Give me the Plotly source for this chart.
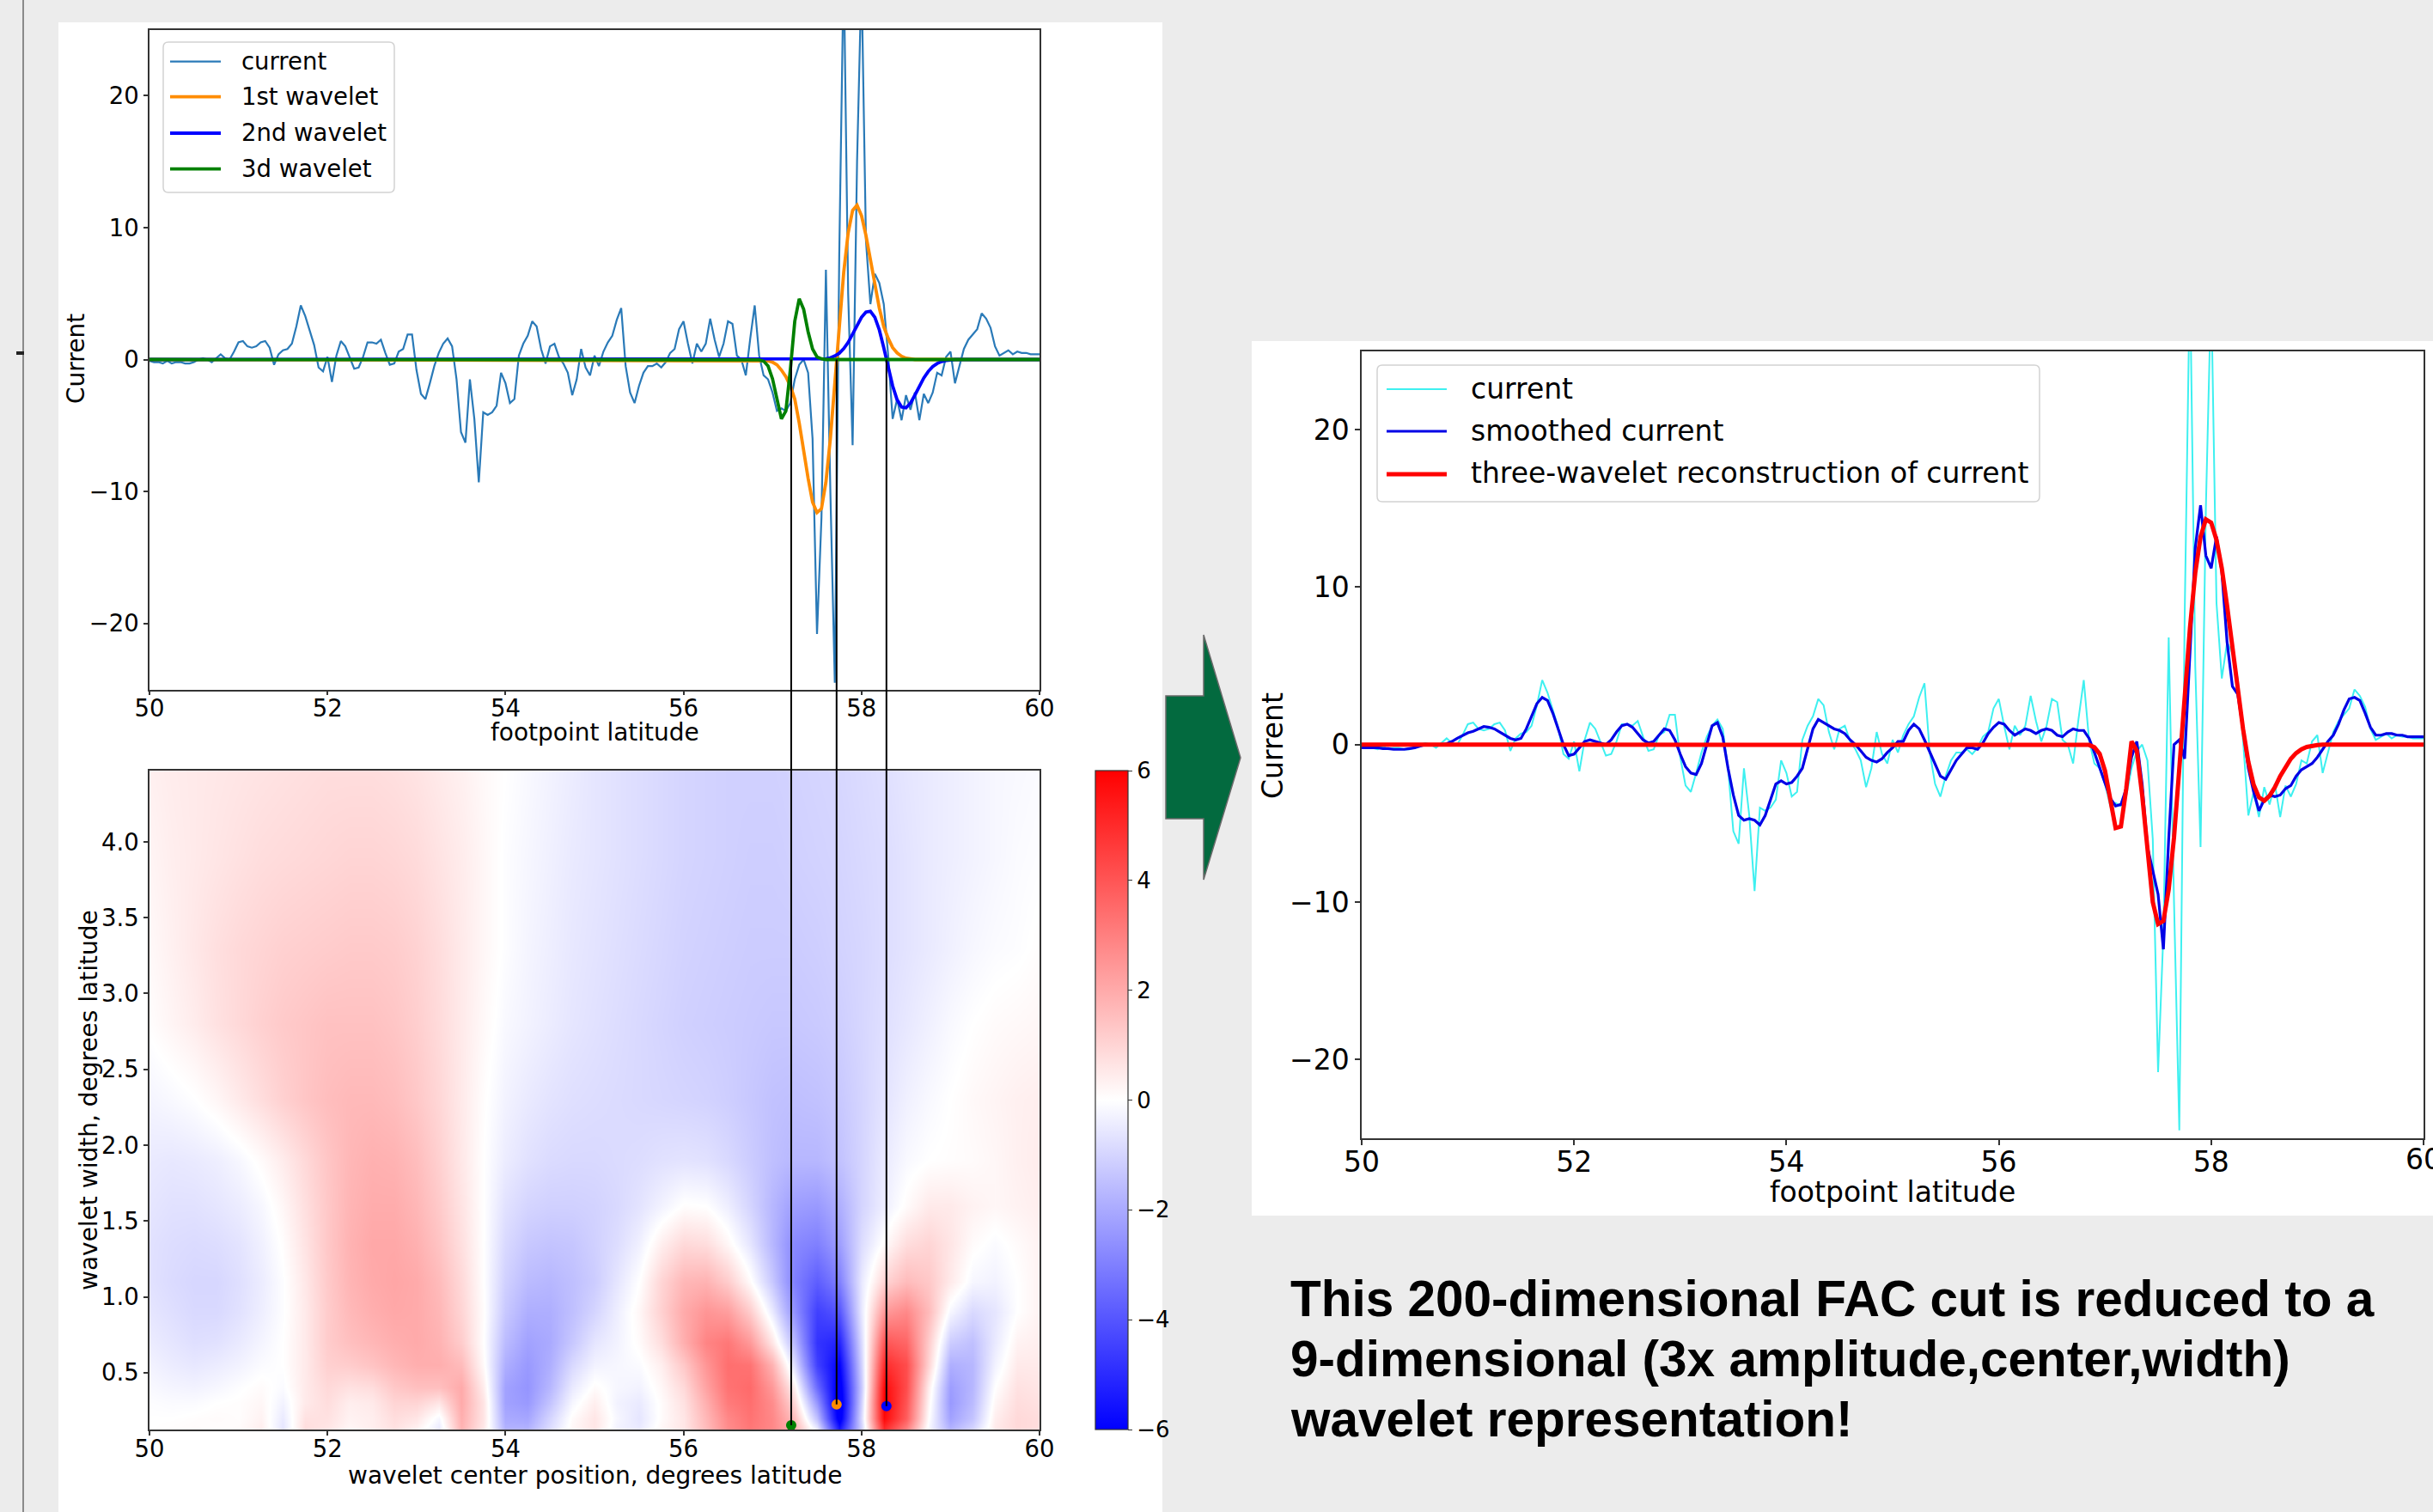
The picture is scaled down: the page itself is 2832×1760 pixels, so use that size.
import plotly.graph_objects as go

W, H = 2832, 1760
def px(x): return x / W
def py(y): return 1 - y / H

FONT = "DejaVu Sans"
BG = "#ececec"

# ---------------- data ----------------
LAT = [round(50 + i * 0.05, 2) for i in range(201)]   # footpoint latitude sampling (200 cells)

CURRENT = [
    -0.1, -0.2, -0.2, -0.3, -0.1, -0.3, -0.2, -0.2, -0.3, -0.3, -0.2, 0.0, 0.1, 0.0, -0.2, 0.1, 0.4, 0.1, 0.0, 0.6,
    1.3, 1.4, 1.0, 0.9, 1.0, 1.3, 1.4, 0.9, -0.4, 0.4, 0.7, 0.8, 1.2, 2.5, 4.1, 3.3, 2.2, 1.1, -0.6, -0.9,
    0.2, -1.7, 0.3, 1.4, 1.0, 0.2, -0.7, -0.6, 0.2, 1.3, 1.3, 1.2, 1.5, 0.5, -0.4, -0.3, 0.6, 0.8, 1.9, 1.9,
    -0.8, -2.6, -3.0, -1.8, -0.5, 0.5, 1.2, 1.6, 1.0, -1.5, -5.5, -6.3, -1.5, -4.5, -9.3, -4.0, -4.2, -4.0, -3.5, -1.0,
    -1.8, -3.3, -3.0, 0.3, 1.2, 1.8, 2.9, 2.5, 0.8, -0.3, 1.0, 1.2, 0.2, -0.3, -1.0, -2.7, -1.5, 0.8, -0.6, -1.2,
    0.3, -0.5, 0.6, 1.3, 1.8, 3.0, 3.9, -0.5, -2.5, -3.3, -2.0, -1.0, -0.5, -0.5, -0.3, -0.6, -0.2, 0.5, 0.8, 2.3,
    2.9, 1.2, -0.3, 1.2, 0.6, 1.2, 3.1, 1.5, 0.2, 1.2, 2.9, 2.7, 0.3, 0.0, -1.2, 1.6, 4.1, 0.3, -1.2, -1.5,
    -2.5, -3.9, -3.7, -3.9, -3.3, -1.5, -0.4, 0.0, -1.0, -6.0, -20.8, -12.0, 6.8, -10.0, -24.5, 8.0, 30.0, 5.0, -6.5, 15.0,
    29.0, 9.0, 4.2, 6.5, 5.8, 4.2, 0.3, -4.5, -3.0, -4.6, -2.7, -3.8, -2.5, -4.6, -2.6, -3.3, -2.5, -1.0, -1.2, 0.2,
    0.6, -1.8, -0.5, 0.8, 1.5, 1.9, 2.3, 3.5, 3.1, 2.4, 1.0, 0.3, 0.5, 0.7, 0.4, 0.6, 0.5, 0.5, 0.4, 0.4, 0.4,
]

SMOOTHED = [
    -0.2, -0.2, -0.2, -0.2, -0.25, -0.25, -0.3, -0.3, -0.3, -0.25, -0.2, -0.1, 0.0, 0.0, 0.0, 0.0, 0.05, 0.2, 0.4, 0.6,
    0.75, 0.85, 1.0, 1.15, 1.1, 1.0, 0.8, 0.6, 0.4, 0.3, 0.4, 1.0, 1.8, 2.6, 3.0, 2.8, 2.0, 1.0, 0.0, -0.7,
    -0.6, -0.2, 0.2, 0.3, 0.2, 0.1, 0.0, 0.3, 0.8, 1.2, 1.3, 1.1, 0.7, 0.3, 0.1, 0.2, 0.6, 1.0, 0.9, 0.3,
    -0.6, -1.4, -1.8, -1.9, -1.2, 0.0, 1.2, 1.4, 0.5, -1.5, -3.2, -4.5, -4.8, -4.7, -4.8, -5.1, -4.5, -3.5, -2.5, -2.3,
    -2.5, -2.4, -2.0, -1.5, -0.3, 1.0, 1.6, 1.4, 1.2, 1.0, 0.9, 0.7, 0.3, 0.0, -0.4, -0.8, -1.0, -1.1, -0.9, -0.5,
    -0.2, 0.2, 0.2, 0.9, 1.3, 1.0, 0.3, -0.5, -1.3, -2.0, -2.2, -1.6, -1.0, -0.6, -0.2, -0.2, -0.3, 0.1, 0.7, 1.1,
    1.4, 1.3, 0.9, 0.6, 0.8, 1.0, 0.9, 0.7, 0.9, 1.0, 0.9, 0.6, 0.5, 0.8, 1.0, 0.9, 0.9, 0.4, -0.5, -1.5,
    -2.5, -3.4, -3.9, -3.8, -2.8, -0.8, 0.2, -2.5, -6.5, -8.0, -9.5, -13.0, -6.0, 0.0, 0.3, -0.9, 6.0, 12.5, 15.2, 12.0,
    11.2, 13.2, 11.0, 6.5, 3.7, 3.2, 1.0, -1.5, -3.0, -4.2, -3.5, -3.2, -3.3, -3.2, -2.8, -2.6, -2.0, -1.6, -1.4, -1.2,
    -0.8, -0.3, 0.2, 0.6, 1.3, 2.2, 2.9, 3.0, 2.8, 2.0, 1.1, 0.6, 0.6, 0.7, 0.7, 0.6, 0.6, 0.5, 0.5, 0.5, 0.5,
]

# wavelets: non-zero stretch (on the LAT lattice), zero elsewhere
WAVE1 = [-0.05, -0.1, -0.2, -0.4, -0.8, -1.3, -2.0, -3.0, -4.8, -7.0, -9.0, -10.8, -11.6, -11.3, -9.3, -6.0,
         -1.8, 2.6, 6.6, 9.6, 11.3, 11.7, 10.9, 9.4, 7.5, 5.6, 3.9, 2.5, 1.6, 0.9, 0.5, 0.25, 0.1, 0.05, 0.0]   # 56.90-58.60
WAVE2 = [0.0, 0.03, 0.06, 0.13, 0.27, 0.48, 0.82, 1.3, 1.9, 2.6, 3.2, 3.6, 3.66, 3.2, 2.25, 0.9, -0.6, -2.0,
         -3.05, -3.6, -3.66, -3.3, -2.7, -2.0, -1.4, -0.9, -0.54, -0.3, -0.15, -0.07, -0.03, 0.0]               # 57.50-59.05
WAVE3 = [0.0, -0.02, -0.12, -0.49, -1.46, -3.1, -4.5, -3.9, -0.8, 2.9, 4.6, 3.8, 2.1, 0.8, 0.2, 0.05, 0.0]   # 56.80-57.60
RECON = [-0.02, -0.17, -0.59, -1.66, -3.5, -5.3, -5.2, -2.8, 0.2, -0.4, -3.2, -6.9, -10.0, -11.4, -11.2, -9.2,
         -5.9, -1.5, 3.1, 7.4, 10.9, 13.2, 14.3, 14.1, 13.0, 11.2, 8.8, 6.2, 3.4, 1.0, -1.1, -2.55, -3.35, -3.56,
         -3.25, -2.7, -2.0, -1.4, -0.9, -0.54, -0.3, -0.15, -0.07, -0.03, 0.0]                                # 56.85-59.05
WAVE1_START, WAVE2_START, WAVE3_START, RECON_START = 138, 150, 136, 137   # index into LAT

# wavelet parameters (center, width) as marked on the coefficient map
WAVE_CENTER = [57.72, 58.28, 57.21]
WAVE_WIDTH = [0.29, 0.28, 0.153]
WAVE_COLOR = ["#ff8c00", "#0000ff", "#008000"]

# wavelet coefficient map
HM_LAT = [50 + 0.25 * i for i in range(41)]
HM_WIDTH = [0.13, 0.2, 0.3, 0.4, 0.55, 0.7, 0.9, 1.1, 1.35, 1.6, 1.9, 2.3, 2.8, 3.3, 3.9, 4.47]
HM_Z = [
    [0.0, 0.05, 0.1, 0.05, 0.1, 0.4, -0.6, 0.8, 0.6, 0.2, 0.4, 0.7, 0.3, -0.5, 1.8, 0.5, -1.8, -1.8, -0.8, 0.2, 0.6, -0.3, -0.5, 0.2, 0.6, 1.6, 2.7, 3.2, 2.8, 1.8, -0.5, -5.5, -1.0, 5.0, 3.0, -0.2, -1.8, -1.0, 0.5, 0.9, 0.8],
    [0.0, 0.0, 0.05, 0.1, 0.05, 0.3, -0.5, 0.7, 0.7, 0.3, 0.4, 0.8, 0.6, -0.2, 1.9, 0.6, -2.0, -2.1, -1.0, 0.1, 0.6, -0.2, -0.6, 0.1, 0.6, 1.7, 2.8, 3.3, 2.8, 1.5, -1.5, -6.5, -0.8, 5.8, 3.8, 0.0, -2.2, -1.4, 0.4, 0.9, 0.8],
    [-0.05, -0.1, -0.1, 0.0, 0.05, 0.2, -0.3, 0.5, 0.8, 0.4, 0.5, 1.0, 1.0, 0.6, 2.0, 0.6, -2.2, -2.4, -1.4, -0.2, 0.4, -0.3, -0.5, 0.1, 0.7, 1.9, 3.1, 3.4, 2.7, 0.9, -2.5, -6.8, -1.0, 6.0, 4.0, 0.2, -2.4, -1.6, 0.2, 0.8, 0.7],
    [-0.15, -0.25, -0.3, -0.2, -0.05, 0.1, -0.1, 0.5, 0.9, 0.7, 0.8, 1.3, 1.5, 1.5, 2.0, 0.4, -2.2, -2.5, -1.7, -0.5, 0.1, -0.2, -0.3, 0.2, 0.9, 2.2, 3.3, 3.5, 2.4, 0.3, -3.5, -6.5, -1.2, 5.8, 4.2, 0.4, -2.3, -1.7, 0.0, 0.7, 0.6],
    [-0.3, -0.45, -0.55, -0.45, -0.3, -0.1, 0.0, 0.5, 1.1, 1.2, 1.4, 1.7, 1.9, 1.9, 1.6, 0.1, -1.9, -2.4, -1.9, -0.9, -0.3, -0.2, -0.1, 0.4, 1.3, 2.5, 3.4, 3.3, 1.8, -0.8, -4.5, -6.0, -1.0, 5.0, 4.2, 1.0, -1.9, -1.7, -0.3, 0.5, 0.5],
    [-0.45, -0.6, -0.75, -0.7, -0.5, -0.25, 0.0, 0.5, 1.2, 1.5, 1.7, 1.9, 2.0, 1.8, 1.2, 0.0, -1.6, -2.2, -2.0, -1.3, -0.6, -0.3, 0.1, 0.8, 1.9, 2.9, 3.2, 2.4, 0.6, -1.7, -4.8, -5.2, -0.8, 4.0, 3.6, 1.2, -1.2, -1.5, -0.5, 0.3, 0.4],
    [-0.6, -0.75, -0.9, -0.9, -0.7, -0.4, -0.05, 0.5, 1.2, 1.65, 1.9, 2.05, 2.0, 1.7, 1.0, 0.05, -1.3, -1.9, -1.9, -1.5, -1.0, -0.4, 0.2, 1.1, 2.0, 2.5, 2.3, 1.2, -0.5, -2.6, -4.5, -4.0, -0.5, 2.4, 2.8, 1.6, -0.2, -0.9, -0.6, 0.0, 0.3],
    [-0.7, -0.85, -0.95, -0.95, -0.75, -0.45, -0.05, 0.55, 1.25, 1.75, 2.0, 2.1, 2.0, 1.6, 0.9, 0.0, -1.1, -1.6, -1.7, -1.5, -1.2, -0.6, 0.0, 1.0, 1.7, 1.8, 1.2, 0.1, -1.3, -3.0, -3.8, -3.0, -0.5, 1.0, 1.6, 1.3, 0.5, -0.2, -0.3, 0.0, 0.3],
    [-0.7, -0.8, -0.85, -0.8, -0.65, -0.35, 0.05, 0.65, 1.3, 1.8, 2.05, 2.05, 1.85, 1.4, 0.75, 0.0, -0.9, -1.3, -1.4, -1.35, -1.1, -0.8, -0.35, 0.4, 0.9, 0.8, 0.2, -0.6, -1.7, -2.8, -3.0, -2.3, -0.8, 0.1, 0.8, 1.0, 0.6, 0.1, -0.1, 0.1, 0.3],
    [-0.6, -0.7, -0.7, -0.6, -0.45, -0.2, 0.2, 0.75, 1.3, 1.75, 1.95, 1.95, 1.7, 1.25, 0.65, 0.0, -0.7, -1.0, -1.1, -1.1, -1.05, -0.9, -0.65, -0.3, 0.05, 0.0, -0.4, -1.0, -1.7, -2.3, -2.4, -1.9, -1.0, -0.4, 0.1, 0.5, 0.5, 0.3, 0.2, 0.3, 0.4],
    [-0.5, -0.55, -0.5, -0.4, -0.2, 0.1, 0.45, 0.9, 1.35, 1.7, 1.85, 1.8, 1.55, 1.1, 0.55, 0.0, -0.45, -0.7, -0.85, -0.9, -0.9, -0.85, -0.8, -0.7, -0.65, -0.7, -0.9, -1.2, -1.5, -1.7, -1.7, -1.45, -1.0, -0.5, -0.15, 0.0, 0.05, 0.1, 0.2, 0.35, 0.45],
    [-0.25, -0.15, -0.02, 0.2, 0.5, 0.8, 1.1, 1.35, 1.55, 1.65, 1.65, 1.55, 1.3, 0.95, 0.5, 0.05, -0.3, -0.5, -0.65, -0.75, -0.8, -0.85, -0.9, -0.95, -1.0, -1.05, -1.15, -1.3, -1.45, -1.5, -1.45, -1.3, -1.0, -0.65, -0.35, -0.15, 0.0, 0.15, 0.25, 0.35, 0.4],
    [0.05, 0.25, 0.45, 0.7, 0.9, 1.1, 1.25, 1.35, 1.45, 1.45, 1.45, 1.35, 1.15, 0.85, 0.5, 0.15, -0.15, -0.3, -0.45, -0.6, -0.7, -0.8, -0.9, -1.0, -1.1, -1.15, -1.2, -1.25, -1.3, -1.3, -1.25, -1.15, -0.95, -0.75, -0.55, -0.35, -0.15, 0.0, 0.1, 0.15, 0.2],
    [0.15, 0.35, 0.55, 0.75, 0.9, 1.0, 1.1, 1.15, 1.2, 1.25, 1.25, 1.2, 1.05, 0.8, 0.5, 0.2, -0.05, -0.25, -0.4, -0.55, -0.65, -0.75, -0.85, -0.95, -1.05, -1.1, -1.15, -1.2, -1.2, -1.2, -1.15, -1.05, -0.95, -0.8, -0.65, -0.5, -0.35, -0.2, -0.1, -0.05, 0.05],
    [0.25, 0.4, 0.5, 0.6, 0.7, 0.8, 0.85, 0.9, 0.95, 1.0, 1.0, 0.95, 0.85, 0.65, 0.45, 0.2, -0.05, -0.2, -0.35, -0.5, -0.6, -0.7, -0.8, -0.9, -1.0, -1.05, -1.1, -1.15, -1.15, -1.1, -1.05, -1.0, -0.9, -0.8, -0.65, -0.5, -0.4, -0.3, -0.2, -0.1, -0.05],
    [0.35, 0.45, 0.5, 0.55, 0.6, 0.65, 0.7, 0.75, 0.8, 0.8, 0.8, 0.75, 0.65, 0.5, 0.35, 0.15, 0.0, -0.15, -0.3, -0.45, -0.6, -0.7, -0.8, -0.9, -1.0, -1.05, -1.1, -1.1, -1.1, -1.05, -1.0, -0.95, -0.85, -0.75, -0.6, -0.5, -0.4, -0.3, -0.2, -0.15, -0.1],
]
assert len(CURRENT) == 201 and len(SMOOTHED) == 201
assert len(HM_Z) == len(HM_WIDTH) and all(len(r) == len(HM_LAT) for r in HM_Z)

LAT_TICKS = [50, 52, 54, 56, 58, 60]
CUR_TICKS = [-20, -10, 0, 10, 20]
WIDTH_TICKS = [0.5, 1.0, 1.5, 2.0, 2.5, 3.0, 3.5, 4.0]
CB_TICKS = [-6, -4, -2, 0, 2, 4, 6]

TEXT_LINES = ["This 200-dimensional FAC cut is reduced to a",
              "9-dimensional (3x amplitude,center,width)",
              "wavelet representation!"]

def padded(start, vals):
    return [50.0] + LAT[start:start + len(vals)] + [60.0], [0.0] + vals + [0.0]

# ---------------- geometry (pixels) ----------------
AX1 = dict(x0=174, x1=1210, y0=34.5, y1=802.5)
AX2 = dict(x0=174, x1=1210, y0=897, y1=1664)
AX3 = dict(x0=1585, x1=2821, y0=408.5, y1=1325)
HM_RANGE = [0.125, 4.47]

fig = go.Figure()

# top-left: current + wavelets
fig.add_trace(go.Scatter(x=LAT, y=CURRENT, mode="lines", name="current",
                         line=dict(color="#2a7ab8", width=2.2), xaxis="x", yaxis="y", showlegend=False))
for name, start, vals, col in [("1st wavelet", WAVE1_START, WAVE1, WAVE_COLOR[0]),
                               ("2nd wavelet", WAVE2_START, WAVE2, WAVE_COLOR[1]),
                               ("3d wavelet", WAVE3_START, WAVE3, WAVE_COLOR[2])]:
    xx, yy = padded(start, vals)
    fig.add_trace(go.Scatter(x=xx, y=yy, mode="lines", name=name, line=dict(color=col, width=3.8),
                             xaxis="x", yaxis="y", showlegend=False))

# heatmap
BWR = [[0, "rgb(0,0,255)"], [0.5, "rgb(255,255,255)"], [1, "rgb(255,0,0)"]]
fig.add_trace(go.Heatmap(
    x=HM_LAT, y=HM_WIDTH, z=HM_Z, colorscale=BWR, zmin=-6, zmax=6, zsmooth="best",
    xaxis="x2", yaxis="y2",
    colorbar=dict(thickness=38, thicknessmode="pixels", len=(AX2["y1"] - AX2["y0"]) / H, lenmode="fraction",
                  x=px(1275), xanchor="left", y=py(AX2["y1"]), yanchor="bottom", xpad=0, ypad=0,
                  outlinewidth=1.2, outlinecolor="#333", ticks="outside", ticklen=5, tickwidth=1.2,
                  tickcolor="#333", tickvals=CB_TICKS, tickfont=dict(family=FONT, size=26, color="black")),
))
fig.add_trace(go.Scatter(x=WAVE_CENTER, y=WAVE_WIDTH, mode="markers",
                         marker=dict(color=WAVE_COLOR, size=12, line=dict(width=0)),
                         xaxis="x2", yaxis="y2", showlegend=False, cliponaxis=False))

# right: current, smoothed, reconstruction
fig.add_trace(go.Scatter(x=LAT, y=CURRENT, mode="lines", name="current",
                         line=dict(color="#3ef0f0", width=2), xaxis="x3", yaxis="y3", showlegend=False))
fig.add_trace(go.Scatter(x=LAT, y=SMOOTHED, mode="lines", name="smoothed current",
                         line=dict(color="#0000e6", width=3.2), xaxis="x3", yaxis="y3", showlegend=False))
xx, yy = padded(RECON_START, RECON)
fig.add_trace(go.Scatter(x=xx, y=yy, mode="lines", name="three-wavelet reconstruction of current",
                         line=dict(color="#ff0000", width=5), xaxis="x3", yaxis="y3", showlegend=False))

def axis(fs, box, horiz, **kw):
    d = dict(showgrid=False, zeroline=False, showline=True, linecolor="#333", linewidth=1.5, mirror=True,
             ticks="outside", ticklen=5, tickwidth=1.5, tickcolor="#333", automargin=False,
             tickfont=dict(family=FONT, size=fs, color="black"))
    if horiz:
        d["domain"] = [px(box["x0"]), px(box["x1"])]
        d["ticklabelstandoff"] = -8
    else:
        d["domain"] = [py(box["y1"]), py(box["y0"])]
    d.update(kw)
    return d

# the last tick label of the right panel runs past the slide edge: drawn as a clipped annotation
RIGHT_TICKTEXT = [str(t) if t != 60 else "" for t in LAT_TICKS]

layout = dict(
    width=W, height=H, margin=dict(l=0, r=0, t=0, b=0, pad=0, autoexpand=False),
    paper_bgcolor=BG, plot_bgcolor="white",
    xaxis=axis(27.5, AX1, True, range=[50, 60], tickvals=LAT_TICKS, anchor="y"),
    yaxis=axis(27.5, AX1, False, range=[-25, 25], tickvals=CUR_TICKS, anchor="x"),
    xaxis2=axis(27.5, AX2, True, range=[50, 60], tickvals=LAT_TICKS, anchor="y2"),
    yaxis2=axis(27.5, AX2, False, range=HM_RANGE, tickvals=WIDTH_TICKS, tickformat=".1f", anchor="x2"),
    xaxis3=axis(33, AX3, True, range=[50, 60], tickvals=LAT_TICKS, ticktext=RIGHT_TICKTEXT, anchor="y3", ticklen=6),
    yaxis3=axis(33, AX3, False, range=[-25, 25], tickvals=CUR_TICKS, anchor="x3", ticklen=6),
)
fig.update_layout(**layout)

shapes = []
# white panels and slide decorations
shapes.append(dict(type="rect", xref="paper", yref="paper", x0=px(68), x1=px(1353), y0=0, y1=py(26),
                   fillcolor="white", line=dict(width=0), layer="below"))
shapes.append(dict(type="rect", xref="paper", yref="paper", x0=px(1457), x1=1, y0=py(1415), y1=py(397),
                   fillcolor="white", line=dict(width=0), layer="below"))
shapes.append(dict(type="line", xref="paper", yref="paper", x0=px(27), x1=px(27), y0=0, y1=1,
                   line=dict(color="#8a8a8a", width=2), layer="below"))
shapes.append(dict(type="line", xref="paper", yref="paper", x0=px(19), x1=px(28), y0=py(411), y1=py(411),
                   line=dict(color="#222", width=4), layer="below"))

# green arrow
arrow = [(1357, 810), (1401, 810), (1401, 739), (1444, 882), (1401, 1024), (1401, 953), (1357, 953)]
path = "M " + " L ".join(f"{px(a)},{py(b)}" for a, b in arrow) + " Z"
shapes.append(dict(type="path", xref="paper", yref="paper", path=path, fillcolor="#036a3f",
                   line=dict(color="#6a6a6a", width=1.5), layer="above"))

def rrect(x0, y0, x1, y1, r):
    return (f"M {px(x0 + r)},{py(y0)} L {px(x1 - r)},{py(y0)} Q {px(x1)},{py(y0)} {px(x1)},{py(y0 + r)} "
            f"L {px(x1)},{py(y1 - r)} Q {px(x1)},{py(y1)} {px(x1 - r)},{py(y1)} "
            f"L {px(x0 + r)},{py(y1)} Q {px(x0)},{py(y1)} {px(x0)},{py(y1 - r)} "
            f"L {px(x0)},{py(y0 + r)} Q {px(x0)},{py(y0)} {px(x0 + r)},{py(y0)} Z")

annotations = []

def legend(box, rows, lx0, lx1, tx, fs, entries):
    shapes.append(dict(type="path", xref="paper", yref="paper", path=rrect(*box, 6), fillcolor="white",
                       line=dict(color="#d2d2d2", width=1.5), layer="above"))
    for y, (label, col, wd) in zip(rows, entries):
        shapes.append(dict(type="line", xref="paper", yref="paper", x0=px(lx0), x1=px(lx1), y0=py(y), y1=py(y),
                           line=dict(color=col, width=wd), layer="above"))
        annotations.append(dict(xref="paper", yref="paper", x=px(tx), y=py(y - 1), text=label, showarrow=False,
                                xanchor="left", yanchor="middle", font=dict(family=FONT, size=fs, color="black")))

legend((190, 49, 459, 224), [71.7, 112.7, 155, 196.7], 198, 257, 279, 27.5,
       [("current", "#2a7ab8", 2.2), ("1st wavelet", WAVE_COLOR[0], 3.8),
        ("2nd wavelet", WAVE_COLOR[1], 3.8), ("3d wavelet", WAVE_COLOR[2], 3.8)])
legend((1603, 425, 2374, 584), [453, 502, 552], 1614, 1684, 1710, 33,
       [("current", "#3ef0f0", 2), ("smoothed current", "#0000e6", 3.2),
        ("three-wavelet reconstruction of current", "#ff0000", 5)])

# black connectors from the wavelet markers up to the zero line of the current plot
zero_paper = py((AX1["y0"] + AX1["y1"]) / 2)
hm_d0, hm_d1 = py(AX2["y1"]), py(AX2["y0"])
for c, wdt in zip(WAVE_CENTER, WAVE_WIDTH):
    yb = hm_d0 + (wdt - HM_RANGE[0]) / (HM_RANGE[1] - HM_RANGE[0]) * (hm_d1 - hm_d0)
    shapes.append(dict(type="line", xref="x", yref="paper", x0=c, x1=c, y0=yb, y1=zero_paper,
                       line=dict(color="black", width=2), layer="above"))

# axis titles
def title(text, x, y, fs, angle=0):
    annotations.append(dict(xref="paper", yref="paper", x=px(x), y=py(y), text=text, showarrow=False,
                            textangle=angle, xanchor="center", yanchor="middle",
                            font=dict(family=FONT, size=fs, color="black")))

title("Current", 88, 418, 28, -90)
title("footpoint latitude", 692, 853, 28)
title("wavelet width, degrees latitude", 103, 1281, 28, -90)
title("wavelet center position, degrees latitude", 692, 1717, 28)
title("Current", 1481, 868, 33, -90)
title("footpoint latitude", 2203, 1387, 33)

# clipped "60" label at the right slide edge
annotations.append(dict(xref="x3", yref="paper", x=LAT_TICKS[-1], y=py(1349), text=str(LAT_TICKS[-1]),
                        showarrow=False, xanchor="center", yanchor="middle",
                        font=dict(family=FONT, size=33, color="black")))

for i, line in enumerate(TEXT_LINES):
    annotations.append(dict(xref="paper", yref="paper", x=px(1500), y=py(1511 + 70 * i), text=f"<b>{line}</b>",
                            showarrow=False, xanchor="left", yanchor="middle",
                            font=dict(family="Liberation Sans", size=58.5, color="black")))

fig.update_layout(shapes=shapes, annotations=annotations)
fig.write_html("out.html")
